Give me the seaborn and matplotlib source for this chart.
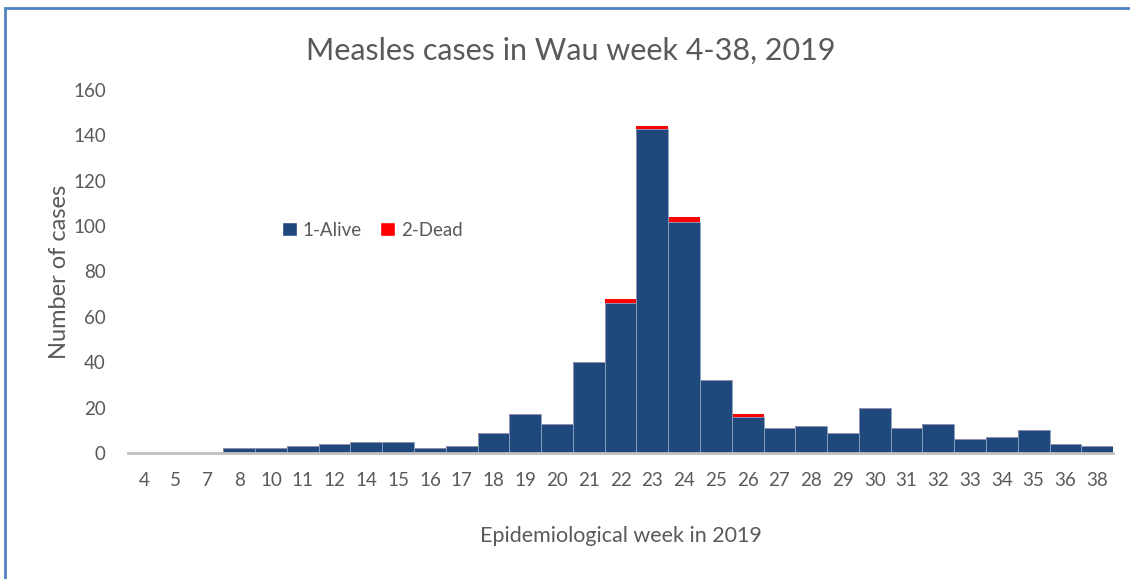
import pandas as pd
import matplotlib.pyplot as plt
import seaborn as sns
from matplotlib.patches import Patch, Rectangle

# Data
weeks = ['4', '5', '7', '8', '10', '11', '12', '14', '15', '16', '17', '18', '19', '20', '21', '22',
         '23', '24', '25', '26', '27', '28', '29', '30', '31', '32', '33', '34', '35', '36', '38']
alive = [0, 0, 0, 2, 2, 3, 4, 5, 5, 2, 3, 9, 17, 13, 40, 66,
         143, 102, 32, 16, 11, 12, 9, 20, 11, 13, 6, 7, 10, 4, 3]
dead = [0, 0, 0, 0, 0, 0, 0, 0, 0, 0, 0, 0, 0, 0, 0, 2,
        1, 2, 0, 1, 0, 0, 0, 0, 0, 0, 0, 0, 0, 0, 0]

blue = '#1F497D'
red = '#FF0000'
grey = '#595959'

df = pd.DataFrame({'week': weeks, 'alive': alive, 'dead': dead})
df['total'] = df['alive'] + df['dead']

sns.set_style('white')
plt.rcParams['font.family'] = ['Lato', 'DejaVu Sans']

fig = plt.figure(figsize=(11.3, 5.79), dpi=100)
ax = fig.add_axes([0.1133, 0.2176, 0.8717, 0.627])

# stacked bars: total in red underneath, alive in blue on top
sns.barplot(data=df, x='week', y='total', order=weeks, color=red, width=1.0,
            saturation=1, edgecolor='none', ax=ax)
sns.barplot(data=df, x='week', y='alive', order=weeks, color=blue, width=1.0,
            saturation=1, edgecolor='#8FA6C4', linewidth=0.6, ax=ax)

ax.set_ylim(0, 160)
ax.set_yticks(range(0, 161, 20))
ax.set_xlim(-0.5, len(weeks) - 0.5)

for s in ['top', 'right', 'left']:
    ax.spines[s].set_visible(False)
ax.spines['bottom'].set_color('#BFBFBF')
ax.spines['bottom'].set_linewidth(2)
ax.tick_params(axis='both', length=0, labelsize=13.5, colors=grey)
ax.tick_params(axis='x', pad=14)
ax.tick_params(axis='y', pad=16)

ax.set_xlabel('Epidemiological week in 2019', fontsize=15.5, color=grey, labelpad=26)
ax.set_ylabel('Number of cases', fontsize=17, color=grey, labelpad=2)
fig.text(0.505, 0.912, 'Measles cases in Wau week 4-38, 2019', ha='center', va='center',
         fontsize=22, color=grey)

handles = [Patch(facecolor=blue, label='1-Alive'), Patch(facecolor=red, label='2-Dead')]
ax.legend(handles=handles, loc='center', bbox_to_anchor=(0.248, 0.614), ncol=2,
          frameon=False, fontsize=13.5, handlelength=0.8, handleheight=0.8,
          handletextpad=0.3, columnspacing=1.0, labelcolor=grey)

# chart border (left and top edges visible)
fig.patches.append(Rectangle((0.0045, -0.1), 1.2, 1.086, transform=fig.transFigure,
                             fill=False, edgecolor='#4F81BD', linewidth=2))

fig.savefig('out.png', dpi=100)
